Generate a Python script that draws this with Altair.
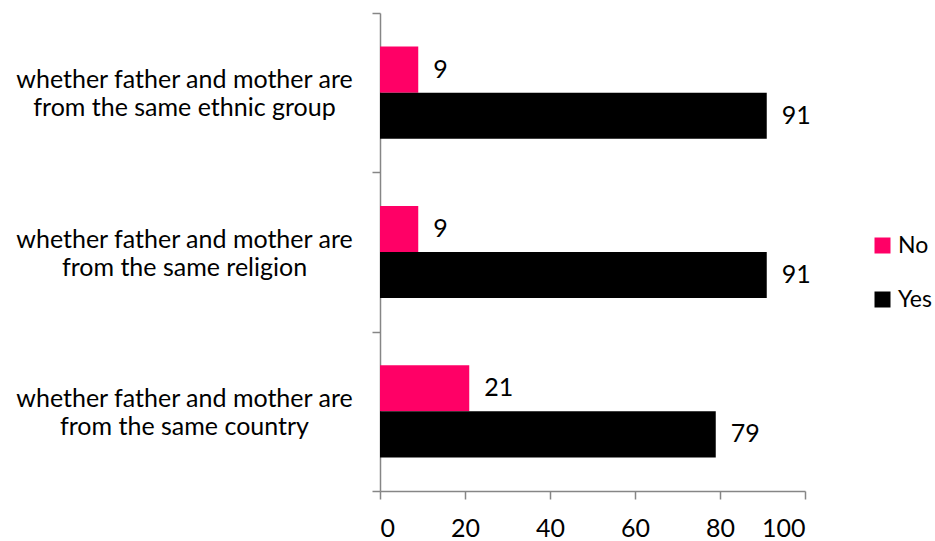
import altair as alt
import pandas as pd

categories = [
    "whether father and mother are\nfrom the same ethnic group",
    "whether father and mother are\nfrom the same religion",
    "whether father and mother are\nfrom the same country",
]
responses = ["No", "Yes"]
no_values = [9, 9, 21]
yes_values = [91, 91, 79]
x_ticks = [0, 20, 40, 60, 80, 100]
colors = ["#FF0066", "#000000"]

rows = []
for c, n, y in zip(categories, no_values, yes_values):
    rows.append({"cat": c, "resp": "No", "value": n})
    rows.append({"cat": c, "resp": "Yes", "value": y})
df = pd.DataFrame(rows)

FONT = "Lato"
GRAY = "#868686"

y_enc = alt.Y(
    "cat:N",
    sort=categories,
    title=None,
    scale=alt.Scale(paddingInner=0, paddingOuter=0),
    axis=alt.Axis(
        labelExpr="split(datum.label, '\\n')",
        labelAlign="center",
        labelBaseline="middle",
        labelPadding=188,
        labelOffset=-13,
        labelFontSize=25,
        labelFont=FONT,
        labelColor="#000000",
        labelLineHeight=28,
        labelLimit=400,
        tickBand="extent",
        tickSize=8,
        tickColor=GRAY,
        domainColor=GRAY,
        tickWidth=1.5,
        domainWidth=1.5,
        grid=False,
    ),
)
yoff_enc = alt.YOffset("resp:N", sort=responses, scale=alt.Scale(paddingInner=0, paddingOuter=0.73))
x_enc = alt.X(
    "value:Q",
    title=None,
    scale=alt.Scale(domain=[0, 100], nice=False),
    axis=alt.Axis(
        values=x_ticks,
        tickSize=8,
        tickColor=GRAY,
        domainColor=GRAY,
        tickWidth=1.5,
        domainWidth=1.5,
        labelFontSize=25,
        labelFont=FONT,
        labelColor="#000000",
        labelPadding=17,
        grid=False,
    ),
)

bars = alt.Chart(df).mark_bar().encode(
    y=y_enc,
    yOffset=yoff_enc,
    x=x_enc,
    color=alt.Color(
        "resp:N",
        sort=responses,
        scale=alt.Scale(domain=responses, range=colors),
        legend=alt.Legend(
            title=None,
            orient="none",
            legendX=491,
            legendY=221,
            symbolType="square",
            symbolSize=256,
            symbolStrokeWidth=0,
            labelFontSize=23,
            labelFont=FONT,
            labelColor="#000000",
            labelOffset=4,
            rowPadding=30,
        ),
    ),
)

labels = alt.Chart(df).mark_text(
    align="left", baseline="middle", dx=15, fontSize=25, font=FONT, color="#000000"
).encode(
    y=alt.Y("cat:N", sort=categories),
    yOffset=yoff_enc,
    x=alt.X("value:Q"),
    text=alt.Text("value:Q"),
)

chart = (
    alt.layer(bars, labels)
    .properties(
        width=425,
        height=478,
        background="#FFFFFF",
        autosize=alt.AutoSizeParams(type="none"),
        padding={"left": 380, "top": 13, "right": 130, "bottom": 50},
    )
    .configure_view(strokeWidth=0, stroke="transparent")
)

chart.save("out.html", embed_options={"renderer": "svg", "actions": False})
